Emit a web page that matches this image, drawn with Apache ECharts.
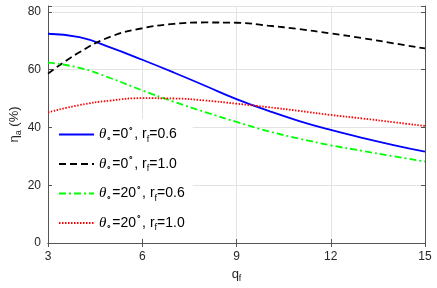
<!DOCTYPE html>
<html>
<head>
<meta charset="utf-8">
<script src="https://cdn.jsdelivr.net/npm/echarts@6/dist/echarts.min.js"></script>
<style>
  html, body { margin: 0; padding: 0; background: #fff; }
  #chart { width: 437px; height: 288px; }
</style>
</head>
<body>
<div id="chart"></div>
<script>
// 数据
const qf = [3, 4, 5, 6, 7, 8, 9, 10, 11, 12, 13, 14, 15];
const th0_rf06 = [72.4, 71.2, 67.6, 63.4, 59.0, 54.4, 49.8, 45.8, 42.2, 39.1, 36.4, 33.9, 31.6];
const th0_rf10 = [58.6, 66.0, 71.4, 74.3, 75.8, 76.3, 76.2, 75.2, 74.0, 72.5, 70.9, 69.1, 67.3];
const th20_rf06 = [62.4, 60.6, 57.0, 52.8, 48.9, 45.3, 41.9, 38.7, 36.1, 33.8, 31.9, 30.0, 28.2];
const th20_rf10 = [45.2, 47.7, 49.3, 50.1, 50.0, 49.3, 48.2, 47.0, 45.7, 44.3, 43.1, 41.8, 40.5];
const xTicks = [3, 6, 9, 12, 15];
const yTicks = [0, 20, 40, 60, 80];

const legendLabels = {
  a: '{th|θ}{sb|∘}{n|=0}{sp|∘}{n|, r}{sb|f}{n|=0.6}',
  b: '{th|θ}{sb|∘}{n|=0}{sp|∘}{n|, r}{sb|f}{n|=1.0}',
  c: '{th|θ}{sb|∘}{n|=20}{sp|∘}{n|, r}{sb|f}{n|=0.6}',
  d: '{th|θ}{sb|∘}{n|=20}{sp|∘}{n|, r}{sb|f}{n|=1.0}'
};

const FONT = 'Liberation Sans, Arial, sans-serif';
const AXIS_COLOR = '#555';
const TEXT_COLOR = '#262626';

const rich = {
  n: { fontSize: 14, fontFamily: FONT, color: '#000', lineHeight: 20 },
  th: { fontSize: 15, fontFamily: 'Liberation Serif, serif', fontStyle: 'italic', color: '#000', lineHeight: 20 },
  sb: { fontSize: 9, fontFamily: FONT, color: '#000', lineHeight: 10, padding: [10, 0, 0, 0] },
  sp: { fontSize: 9, fontFamily: FONT, color: '#000', lineHeight: 10, padding: [0, 0, 10, 0] }
};

const axisRich = {
  n: { fontSize: 13, fontFamily: FONT, color: TEXT_COLOR, lineHeight: 18 },
  sb: { fontSize: 9, fontFamily: FONT, color: TEXT_COLOR, lineHeight: 10, padding: [9, 0, 0, 0] }
};

function toPairs(ys) {
  return qf.map((x, i) => [x, ys[i]]);
}

const chart = echarts.init(document.getElementById('chart'));

const option = {
  animation: false,
  grid: { left: 48, right: 12, top: 6, bottom: 45, outerBoundsMode: 'none', containLabel: false },
  legend: {
    orient: 'vertical',
    left: 52,
    top: 119,
    padding: [6, 8, 6, 6],
    itemGap: 10.5,
    itemWidth: 35,
    itemHeight: 14,
    backgroundColor: '#fff',
    itemStyle: { opacity: 0 },
    data: ['a', 'b', 'c', 'd'],
    formatter: name => legendLabels[name],
    textStyle: { rich: rich }
  },
  xAxis: [
    {
      type: 'value',
      min: xTicks[0],
      max: xTicks[xTicks.length - 1],
      interval: 3,
      name: '{n|q}{sb|f}',
      nameLocation: 'middle',
      nameGap: 22,
      nameMoveOverlap: false,
      nameTextStyle: { rich: axisRich },
      axisLine: { lineStyle: { color: AXIS_COLOR } },
      axisTick: { inside: true, length: 4, lineStyle: { color: AXIS_COLOR } },
      axisLabel: { color: TEXT_COLOR, fontSize: 12, fontFamily: FONT, margin: 8 },
      splitLine: { show: true, lineStyle: { color: '#e3e3e3' } }
    },
    {
      type: 'value',
      position: 'top',
      min: xTicks[0],
      max: xTicks[xTicks.length - 1],
      interval: 3,
      axisLine: { lineStyle: { color: AXIS_COLOR } },
      axisTick: { inside: true, length: 4, lineStyle: { color: AXIS_COLOR } },
      axisLabel: { show: false },
      splitLine: { show: false }
    }
  ],
  yAxis: [
    {
      type: 'value',
      min: yTicks[0],
      max: 82,
      interval: 20,
      name: '{n|η}{sb|a}{n| (%)}',
      nameLocation: 'middle',
      nameGap: 25,
      nameMoveOverlap: false,
      nameTextStyle: { rich: axisRich },
      axisLine: { show: true, lineStyle: { color: AXIS_COLOR } },
      axisTick: { show: true, inside: true, length: 4, lineStyle: { color: AXIS_COLOR } },
      axisLabel: {
        color: TEXT_COLOR, fontSize: 12, fontFamily: FONT, margin: 7,
        formatter: v => (yTicks.indexOf(v) >= 0 ? String(v) : '')
      },
      splitLine: { show: true, lineStyle: { color: '#e3e3e3' } }
    },
    {
      type: 'value',
      position: 'right',
      min: yTicks[0],
      max: 82,
      interval: 20,
      axisLine: { show: true, lineStyle: { color: AXIS_COLOR } },
      axisTick: { show: true, inside: true, length: 4, lineStyle: { color: AXIS_COLOR } },
      axisLabel: { show: false },
      splitLine: { show: false }
    }
  ],
  series: [
    {
      name: 'a', type: 'line', smooth: true, showSymbol: false, symbol: 'none',
      data: toPairs(th0_rf06),
      lineStyle: { color: '#0000ff', width: 1.8, type: 'solid' },
      itemStyle: { color: '#0000ff' }
    },
    {
      name: 'b', type: 'line', smooth: true, showSymbol: false, symbol: 'none',
      data: toPairs(th0_rf10),
      lineStyle: { color: '#000000', width: 1.8, type: [7, 4] },
      itemStyle: { color: '#000000' }
    },
    {
      name: 'c', type: 'line', smooth: true, showSymbol: false, symbol: 'none',
      data: toPairs(th20_rf06),
      lineStyle: { color: '#00ff00', width: 1.8, type: [7, 3, 2, 3] },
      itemStyle: { color: '#00ff00' }
    },
    {
      name: 'd', type: 'line', smooth: true, showSymbol: false, symbol: 'none',
      data: toPairs(th20_rf10),
      lineStyle: { color: '#ff0000', width: 1.8, type: [1.5, 1.5] },
      itemStyle: { color: '#ff0000' }
    }
  ]
};

chart.setOption(option);
</script>
</body>
</html>
